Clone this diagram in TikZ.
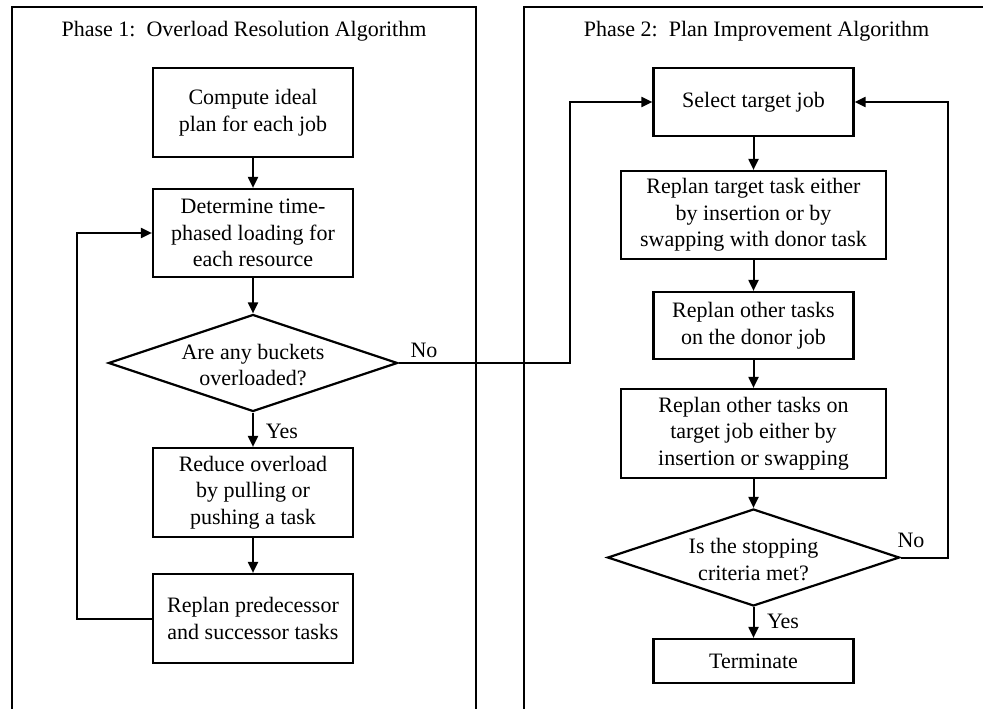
\documentclass[tikz,border=0pt]{standalone}
\usepackage{fontspec}
\setmainfont{Liberation Serif}
\usetikzlibrary{arrows.meta,shapes.geometric}
\begin{document}
\begin{tikzpicture}[x=1pt,y=-1pt,
  txtfont/.style={font=\fontsize{22}{26.5}\selectfont},
  stepbox/.style={draw, rectangle, inner sep=0pt, align=center, txtfont, line width=2.2pt},
  dia/.style={draw, diamond, inner sep=0pt, aspect=3, line width=2.2pt},
  dtext/.style={align=center, txtfont, inner sep=0pt},
  lbl/.style={txtfont, inner sep=0pt},
  arr/.style={-{Triangle[length=11pt,width=10pt]}, line width=2pt},
  frame/.style={line width=2pt}]
\useasboundingbox (0,0) rectangle (983,709);
\fill[white] (0,0) rectangle (983,709);

% panels
\draw[frame] (12,709) -- (12,7) -- (476,7) -- (476,709);
\draw[frame] (524,709) -- (524,7) -- (983,7);
\node[lbl, anchor=base] (t1) at (244,36.5) {Phase 1:\ \ Overload Resolution Algorithm};
\node[lbl, anchor=base] (t2) at (756.5,36.5) {Phase 2:\ \ Plan Improvement Algorithm};

% Phase 1
\node[stepbox, minimum width=200, minimum height=89] (b1) at (253,112.5) {Compute ideal\\plan for each job};
\node[stepbox, minimum width=200, minimum height=88] (b2) at (253,233) {Determine time-\\phased loading for\\each resource};
\node[dia, minimum width=289, minimum height=97] (d1) at (253,363) {};
\node[dtext] (d1t) at (253,365) {Are any buckets\\overloaded?};
\node[stepbox, minimum width=200, minimum height=89] (b3) at (253,492.5) {Reduce overload\\by pulling or\\pushing a task};
\node[stepbox, minimum width=200, minimum height=89] (b4) at (253,618.5) {Replan predecessor\\and successor tasks};

\coordinate (l1) at (77,618.5);
\coordinate (l2) at (77,233);
\coordinate (n1) at (570,363);
\coordinate (n2) at (570,102);

\draw[arr] (b1) -- (b2);
\draw[arr] (b2) -- (d1);
\draw[arr] (d1) -- (b3);
\draw[arr] (b3) -- (b4);
\draw[arr] (b4.west) -- (l1) -- (l2) -- (b2.west);
\node[lbl] (yes1) at (282,431) {Yes};
\node[lbl] (no1) at (424,350) {No};

% Phase 2
\node[stepbox, minimum width=200, minimum height=68] (s1) at (753.5,102) {Select target job};
\node[stepbox, minimum width=265, minimum height=88] (s2) at (753.5,215) {Replan target task either\\by insertion or by\\swapping with donor task};
\node[stepbox, minimum width=200, minimum height=67] (s3) at (753.5,325.5) {Replan other tasks\\on the donor job};
\node[stepbox, minimum width=265, minimum height=89] (s4) at (753.5,433.5) {Replan other tasks on\\target job either by\\insertion or swapping};
\node[dia, minimum width=292, minimum height=97] (d2) at (753.5,557.5) {};
\node[dtext] (d2t) at (753.5,559.5) {Is the stopping\\criteria met?};
\node[stepbox, minimum width=200, minimum height=44] (s5) at (753.5,661) {Terminate};

\coordinate (r1) at (948,557.5);
\coordinate (r2) at (948,102);

\draw[arr] (d1.east) -- (n1) -- (n2) -- (s1.west);
\draw[arr] (s1) -- (s2);
\draw[arr] (s2) -- (s3);
\draw[arr] (s3) -- (s4);
\draw[arr] (s4) -- (d2);
\draw[arr] (d2) -- (s5);
\draw[arr] (d2.east) -- (r1) -- (r2) -- (s1.east);
\node[lbl] (yes2) at (783,621) {Yes};
\node[lbl] (no2) at (911,540) {No};
\end{tikzpicture}
\end{document}
